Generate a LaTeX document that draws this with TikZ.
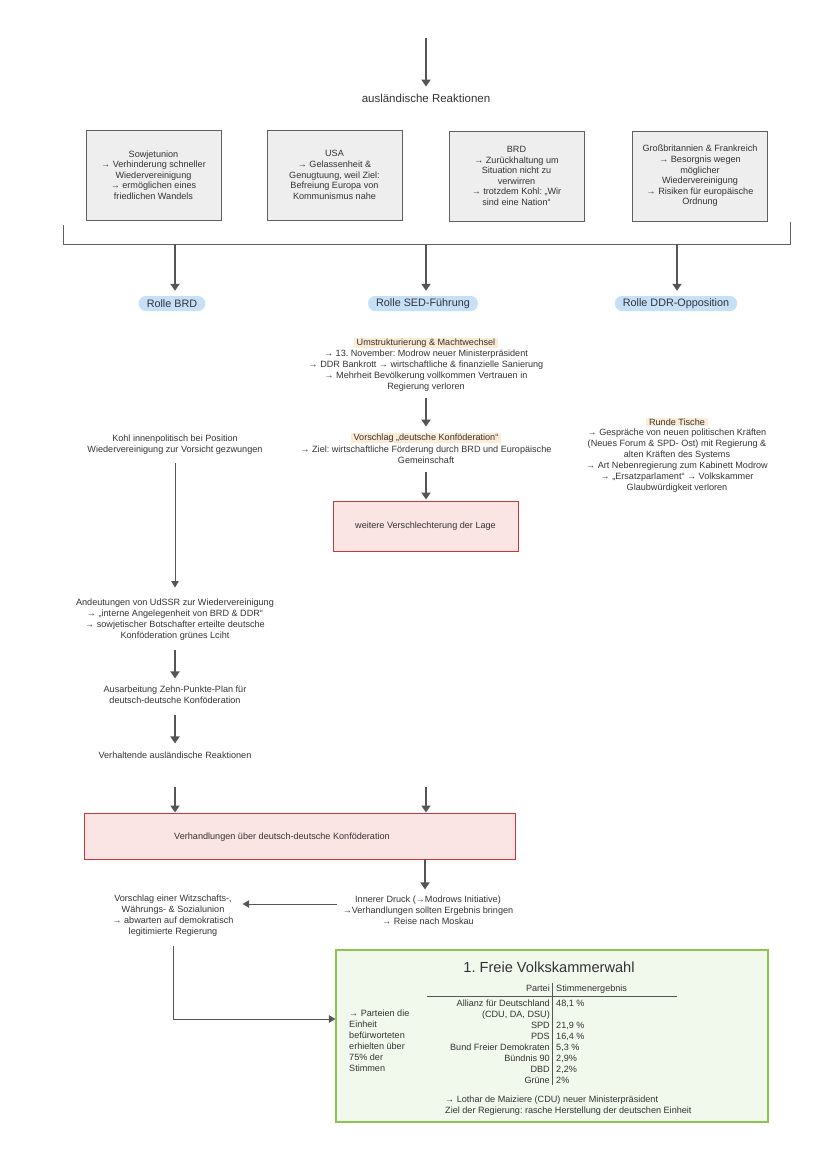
\documentclass[tikz,border=0pt]{standalone}
\usepackage{fontspec}
\setmainfont{Liberation Sans}
\usetikzlibrary{arrows.meta}
\frenchspacing
\definecolor{arr}{HTML}{555555}
\definecolor{txtc}{HTML}{333333}
\definecolor{boxdraw}{HTML}{5f5f5f}
\definecolor{boxfill}{HTML}{eeeeee}
\definecolor{rollefill}{HTML}{c6e0f8}
\definecolor{hlfill}{HTML}{fcebd5}
\definecolor{reddraw}{HTML}{c8373a}
\definecolor{redfill}{HTML}{fbe4e4}
\definecolor{greendraw}{HTML}{8cc451}
\definecolor{greenfill}{HTML}{f1f8ec}
\begin{document}
\begin{tikzpicture}[x=1pt,y=-1pt,
  font=\fontsize{9.1}{11}\selectfont\frenchspacing, text=txtc,
  txt/.style={align=center, inner sep=0pt},
  big/.style={inner sep=0pt, font=\fontsize{11.5}{13}\selectfont},
  rbox/.style={draw=boxdraw, fill=boxfill, line width=0.9pt, minimum width=135pt, minimum height=90pt, align=center, inner sep=2pt, font=\fontsize{9.1}{10.6}\selectfont\frenchspacing},
  rolle/.style={fill=rollefill, rounded corners=7pt, inner xsep=8pt, inner ysep=1.5pt, minimum height=15pt, font=\fontsize{10.8}{12}\selectfont},
  hl/.style={fill=hlfill, inner xsep=3pt, inner ysep=1pt},
  redbox/.style={draw=reddraw, fill=redfill, line width=1pt},
  gbox/.style={draw=greendraw, fill=greenfill, line width=1.2pt},
  brk/.style={draw=boxdraw, line width=0.9pt},
  thk/.style={draw=arr, line width=1.9pt, -{Triangle[width=9pt,length=7pt]}},
  thn/.style={draw=arr, line width=1pt, -{Triangle[width=7.5pt,length=6.5pt]}},
  pl/.style={inner sep=0pt, anchor=base east},
  vl/.style={inner sep=0pt, anchor=base west},
  lt/.style={inner sep=0pt, anchor=base west}
]
\useasboundingbox (0,0) rectangle (828,1171);

% top
\coordinate (top) at (426,38);
\node[big] (aus) at (426,98) {ausländische Reaktionen};
\draw[thk, shorten >=7pt] (top) -- (aus.north);

% reaction boxes
\node[rbox] (sow) at (153.5,175) {Sowjetunion\\→ Verhinderung schneller\\Wiedervereinigung\\→ ermöglichen eines\\friedlichen Wandels};
\node[rbox] (usa) at (334.5,175) {USA\\→ Gelassenheit \&\\Genugtuung, weil Ziel:\\Befreiung Europa von\\Kommunismus nahe};
\node[rbox] (brd) at (516.5,176) {BRD\\→ Zurückhaltung um\\Situation nicht zu\\verwirren\\→ trotzdem Kohl: „Wir\\sind eine Nation“};
\node[rbox] (gb) at (700,176) {Großbritannien \& Frankreich\\→ Besorgnis wegen\\möglicher\\Wiedervereinigung\\→ Risiken für europäische\\Ordnung};

% bracket
\coordinate (bl) at (63,225);
\coordinate (blb) at (63,244);
\coordinate (brb) at (790,244);
\coordinate (br) at (790,222);
\draw[brk] (bl) -- (blb) -- (brb) -- (br);
\coordinate (b1) at (175,244);
\coordinate (b2) at (426,244);
\coordinate (b3) at (677,244);

% Rolle
\node[rolle] (rbrd) at (172,303.5) {Rolle BRD};
\node[rolle] (rsed) at (423,303.5) {Rolle SED-Führung};
\node[rolle] (rddr) at (676,303.5) {Rolle DDR-Opposition};
\draw[thk, shorten >=5pt] (b1) -- (b1 |- rbrd.north);
\draw[thk, shorten >=5pt] (b2) -- (b2 |- rsed.north);
\draw[thk, shorten >=5pt] (b3) -- (b3 |- rddr.north);

% SED column
\node[hl] (umt) at (426,343) {Umstrukturierung \& Machtwechsel};
\node[txt] (umb) at (426,370.5) {→ 13. November: Modrow neuer Ministerpräsident\\→ DDR Bankrott → wirtschaftliche \& finanzielle Sanierung\\→ Mehrheit Bevölkerung vollkommen Vertrauen in\\Regierung verloren};
\node[hl] (vkt) at (426,438) {Vorschlag „deutsche Konföderation“};
\node[txt] (vkb) at (426,454.5) {→ Ziel: wirtschaftliche Förderung durch BRD und Europäische\\Gemeinschaft};
\node[redbox, minimum width=185pt, minimum height=50pt] (wv) at (425.5,526) {weitere Verschlechterung der Lage};
\draw[thk, shorten <=7pt, shorten >=6pt] (umb.south) -- (vkt.north);
\draw[thk, shorten <=8pt, shorten >=1pt] (vkb.south) -- (vkb.south |- wv.north);

% DDR opposition
\node[hl] (rt) at (677,422) {Runde Tische};
\node[txt] (rtb) at (677,460.5) {→ Gespräche von neuen politischen Kräften\\(Neues Forum \& SPD- Ost) mit Regierung \&\\alten Kräften des Systems\\→ Art Nebenregierung zum Kabinett Modrow\\→ „Ersatzparlament“ → Volkskammer\\Glaubwürdigkeit verloren};

% BRD column
\node[txt] (kohl) at (175,444.5) {Kohl innenpolitisch bei Position\\Wiedervereinigung zur Vorsicht gezwungen};
\node[txt] (and) at (175,619.5) {Andeutungen von UdSSR zur Wiedervereinigung\\→ „interne Angelegenheit von BRD \& DDR“\\→ sowjetischer Botschafter erteilte deutsche\\Konföderation grünes Lciht};
\node[txt] (zpp) at (175,694.5) {Ausarbeitung Zehn-Punkte-Plan für\\deutsch-deutsche Konföderation};
\node[txt] (vhr) at (175,755) {Verhaltende ausländische Reaktionen};
\draw[thn, shorten <=9pt, shorten >=11pt] (kohl.south) -- (and.north);
\draw[thk, shorten <=10pt, shorten >=7pt] (and.south) -- (zpp.north);
\draw[thk, shorten <=11pt, shorten >=8pt] (zpp.south) -- (vhr.north);

% negotiations
\node[redbox, minimum width=431pt, minimum height=46pt] (neg) at (299.5,836) {};
\node[txt] (negt) at (282,837) {Verhandlungen über deutsch-deutsche Konföderation};
\draw[thk, shorten <=28pt] (vhr.south) -- (vhr.south |- neg.north);
\coordinate (sedfree) at (426,787);
\draw[thk] (sedfree) -- (sedfree |- neg.north);

\node[txt] (inn) at (428,910) {Innerer Druck (→Modrows Initiative)\\→Verhandlungen sollten Ergebnis bringen\\→ Reise nach Moskau};
\node[txt] (vor) at (173,915.5) {Vorschlag einer Witzschafts-,\\Währungs- \& Sozialunion\\→ abwarten auf demokratisch\\legitimierte Regierung};
\coordinate (negb) at (425,859);
\draw[thk, shorten >=6pt] (negb) -- (negb |- inn.north);
\draw[thn, shorten <=6pt, shorten >=9pt] ([yshift=6pt]inn.west) coordinate (innw) -- (innw -| vor.east);

% green box
\node[gbox, minimum width=432pt, minimum height=172pt] (green) at (552,1036) {};
\draw[thn, shorten <=10pt] (vor.south) |- ([yshift=17pt]green.west);
\node[inner sep=0pt, font=\fontsize{14.6}{16}\selectfont] (gt) at (549,967) {1. Freie Volkskammerwahl};

\node[pl] (h1) at (550,991.5) {Partei};
\node[vl] (h2) at (556,991.5) {Stimmenergebnis};
\coordinate (hla) at (427,996);
\coordinate (hlb) at (677,996);
\draw[draw=arr, line width=1pt] (hla) -- (hlb);
\coordinate (vla) at (552,983);
\coordinate (vlb) at (552,1085);
\draw[draw=arr, line width=1pt] (vla) -- (vlb);

\node[pl] (p1) at (550,1006) {Allianz für Deutschland};
\node[pl] (p2) at (550,1017) {(CDU, DA, DSU)};
\node[pl] (p3) at (550,1028) {SPD};
\node[pl] (p4) at (550,1039) {PDS};
\node[pl] (p5) at (550,1050) {Bund Freier Demokraten};
\node[pl] (p6) at (550,1061) {Bündnis 90};
\node[pl] (p7) at (550,1072) {DBD};
\node[pl] (p8) at (550,1083) {Grüne};
\node[vl] (v1) at (556,1006) {48,1 \%};
\node[vl] (v3) at (556,1028) {21,9 \%};
\node[vl] (v4) at (556,1039) {16,4 \%};
\node[vl] (v5) at (556,1050) {5,3 \%};
\node[vl] (v6) at (556,1061) {2,9\%};
\node[vl] (v7) at (556,1072) {2,2\%};
\node[vl] (v8) at (556,1083) {2\%};

\node[lt] (l1) at (349,1016) {→ Parteien die};
\node[lt] (l2) at (349,1027) {Einheit};
\node[lt] (l3) at (349,1038) {befürworteten};
\node[lt] (l4) at (349,1049) {erhielten über};
\node[lt] (l5) at (349,1060) {75\% der};
\node[lt] (l6) at (349,1071) {Stimmen};

\node[lt] (f1) at (445,1102) {→ Lothar de Maiziere (CDU) neuer Ministerpräsident};
\node[lt] (f2) at (445,1113) {Ziel der Regierung: rasche Herstellung der deutschen Einheit};
\end{tikzpicture}
\end{document}
